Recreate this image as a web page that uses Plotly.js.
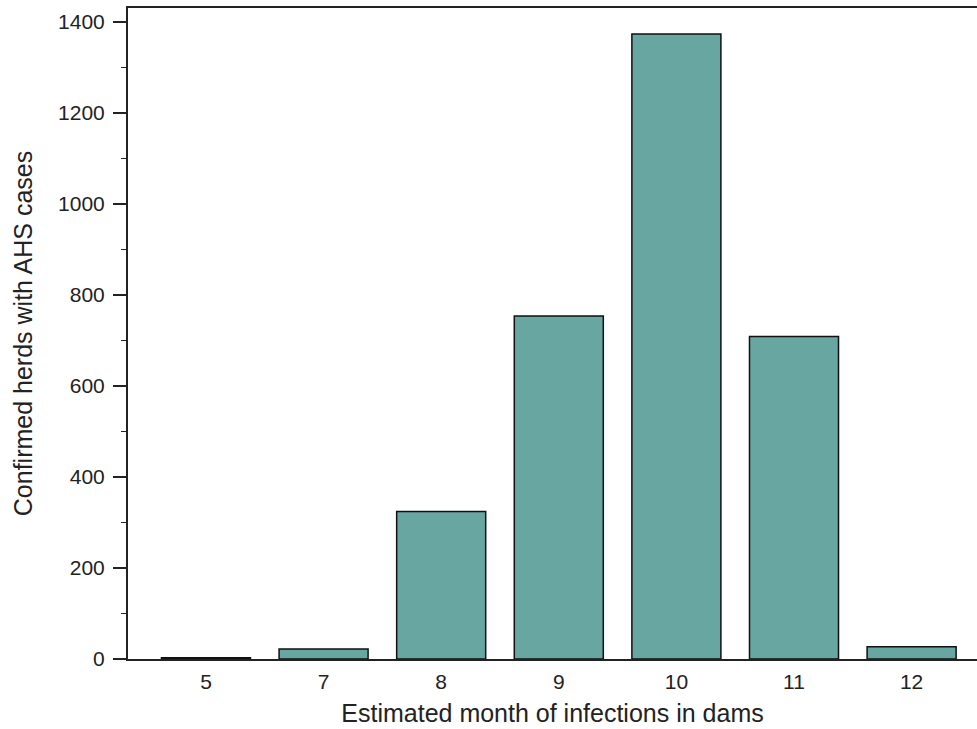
<!DOCTYPE html>
<html>
<head>
<meta charset="utf-8">
<script src="https://cdn.plot.ly/plotly-3.0.1.min.js"></script>
<style>html,body{margin:0;padding:0;background:#fff;}#chart{width:977px;height:729px;}</style>
</head>
<body>
<div id="chart"></div>
<script>
const months = ["5", "7", "8", "9", "10", "11", "12"];
const herds = [3, 22, 324, 754, 1374, 709, 27];
const yTicks = [0, 200, 400, 600, 800, 1000, 1200, 1400];

const trace = {
  type: 'bar',
  x: months,
  y: herds,
  marker: {color: '#67a6a1', line: {color: '#111', width: 1.5}},
  hoverinfo: 'x+y'
};

const layout = {
  width: 977, height: 729,
  margin: {l: 128, r: 0, t: 8, b: 70},
  paper_bgcolor: '#fff', plot_bgcolor: '#fff',
  font: {family: 'Liberation Sans, Arial, sans-serif', size: 21, color: '#222'},
  bargap: 0.243,
  showlegend: false,
  xaxis: {
    type: 'category',
    range: [-0.663, 6.556],
    showline: true, linecolor: '#222', linewidth: 2, mirror: true,
    ticks: '', ticklabelstandoff: 3,
    showgrid: false, zeroline: false,
    tickfont: {size: 21},
    title: {text: 'Estimated month of infections in dams', standoff: 12, font: {size: 25}}
  },
  yaxis: {
    range: [0, 1431],
    tickvals: yTicks,
    showline: true, linecolor: '#222', linewidth: 2,
    ticks: 'outside', ticklen: 13, tickcolor: '#222', tickwidth: 1.5,
    ticklabelstandoff: 4,
    tickfont: {size: 21},
    minor: {dtick: 100, ticks: 'outside', ticklen: 5, tickcolor: '#222', tickwidth: 1.5, showgrid: false},
    showgrid: false, zeroline: false,
    title: {text: 'Confirmed herds with AHS cases', standoff: 18, font: {size: 25}}
  }
};

Plotly.newPlot('chart', [trace], layout, {displayModeBar: false, staticPlot: true});
</script>
</body>
</html>
